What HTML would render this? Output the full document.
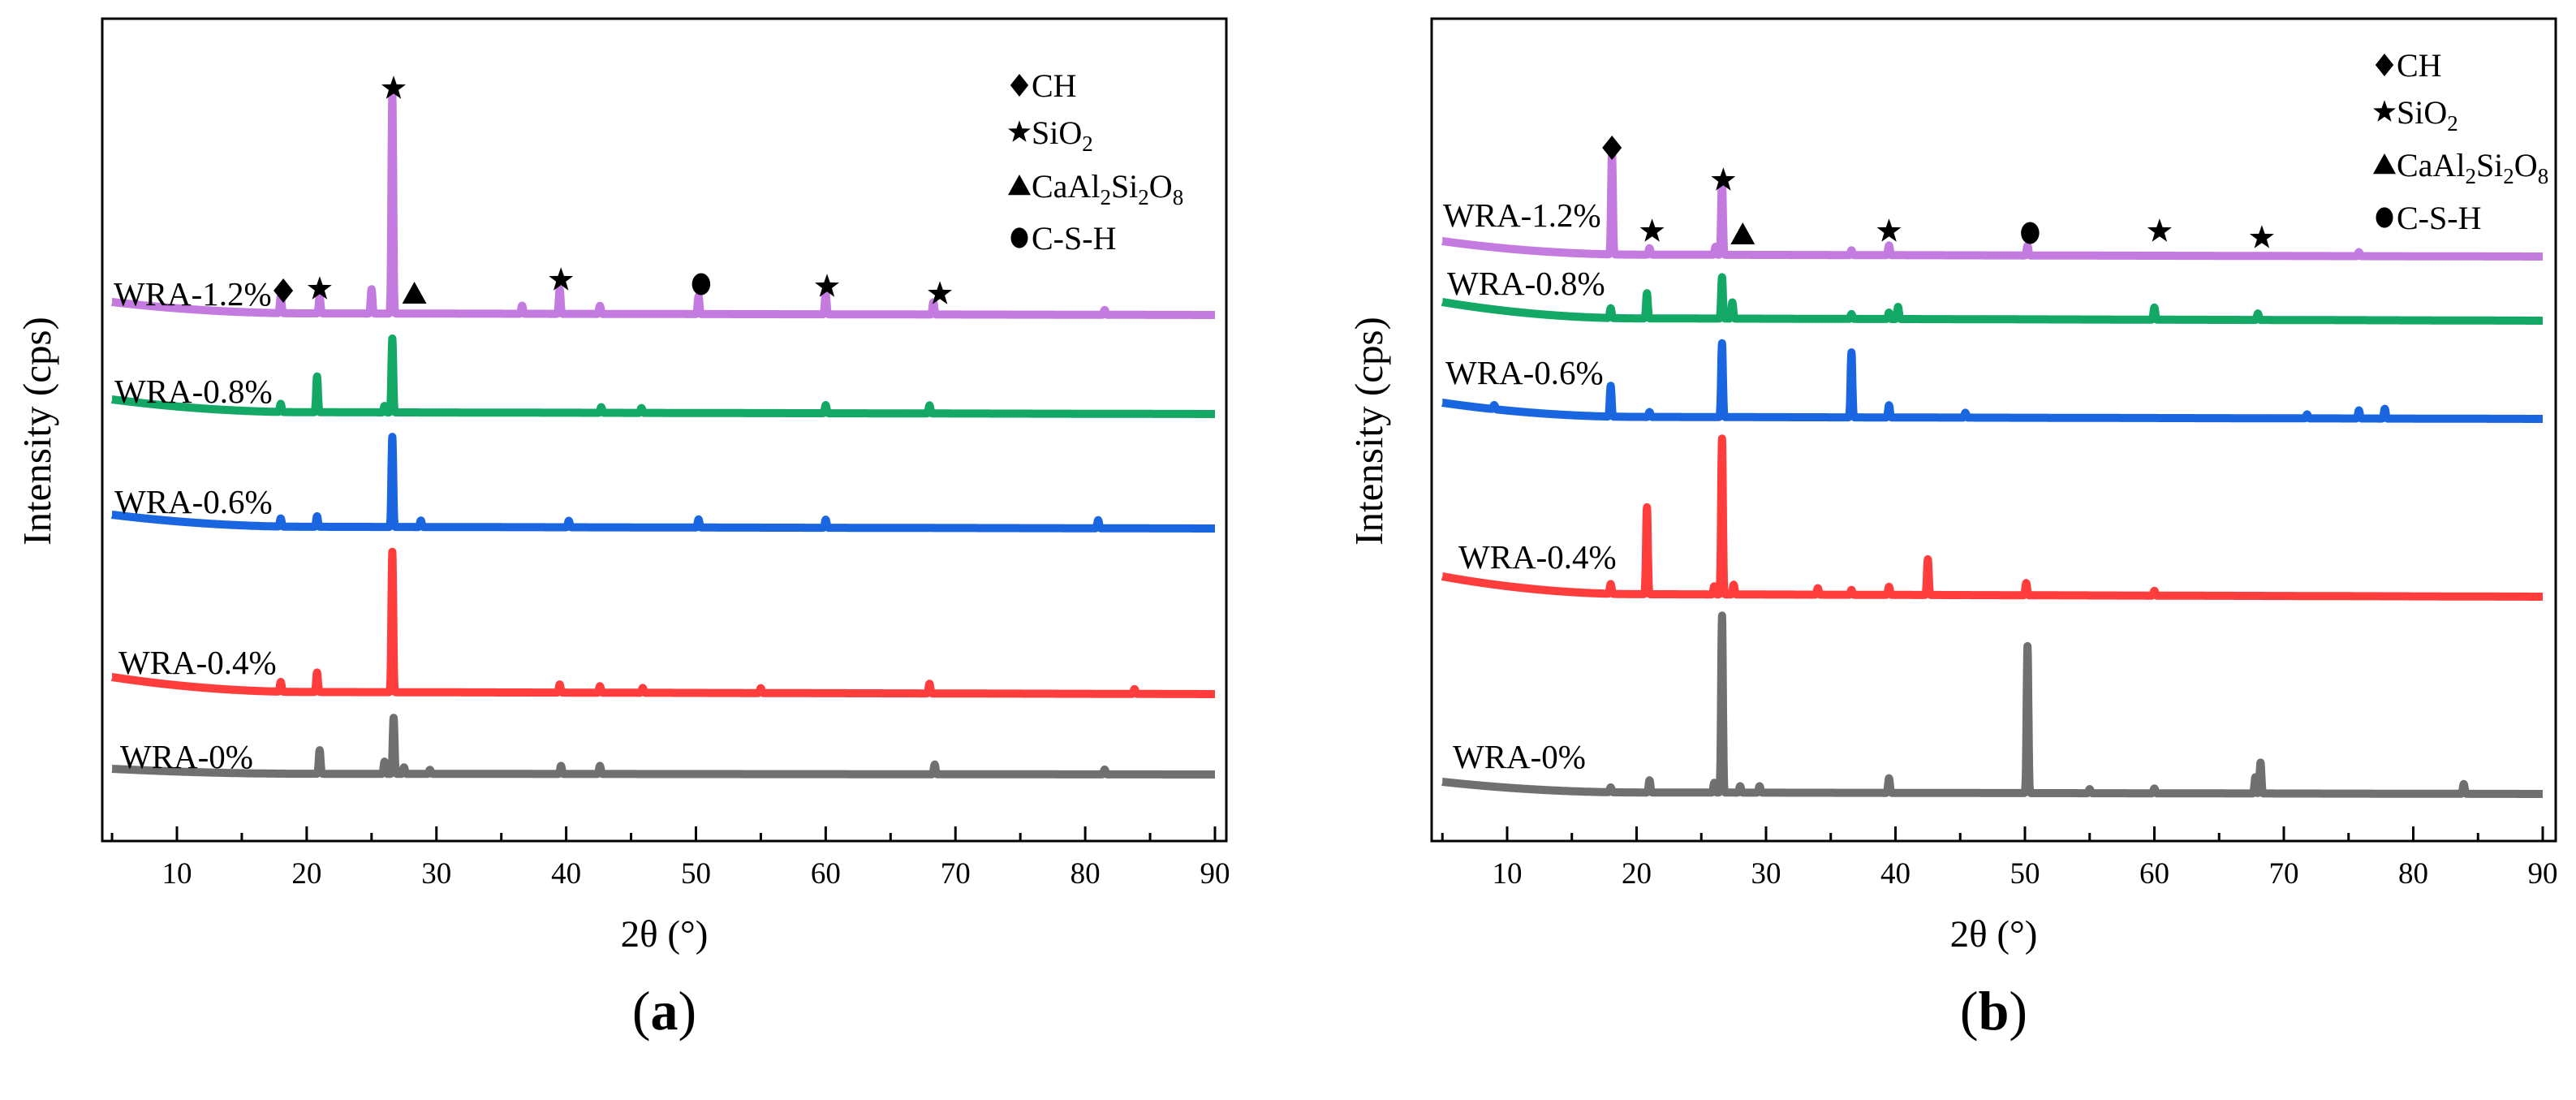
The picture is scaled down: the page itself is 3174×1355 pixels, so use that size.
<!DOCTYPE html>
<html><head><meta charset="utf-8"><style>
html,body{margin:0;padding:0;background:#fff}
svg{display:block}
text{font-family:"Liberation Serif",serif;fill:#000}
</style></head><body>
<svg id="fig" width="3174" height="1355" viewBox="0 0 3174 1355" xmlns="http://www.w3.org/2000/svg"></svg>
<script>
// ---------- data ----------
const seriesNames = ["WRA-0%","WRA-0.4%","WRA-0.6%","WRA-0.8%","WRA-1.2%"];
const seriesColors = ["#707070","#ff3d3d","#1a66e0","#14a866","#c47be0"];
// baseline heights (left at 5°, right at 90°), arbitrary intensity units
const baseLeftA  = [89, 202, 402, 544, 664];
const baseRightA = [82, 181, 385, 526, 648];
const baseLeftB  = [73, 326, 540, 664, 739];
const baseRightB = [58, 301, 520, 641, 720];
// peaks: [2theta, height]
const peaksA = [
 [[21,29],[26,15],[26.7,69],[27.5,8],[29.5,5],[39.6,10],[42.6,10],[68.4,12],[81.5,6]],
 [[18,12],[20.8,24],[26.6,173],[39.5,10],[42.6,8],[45.9,6],[55,6],[68,12],[83.8,6]],
 [[18,10],[20.8,13],[26.6,111],[28.8,8],[40.2,8],[50.2,10],[60,10],[81,10]],
 [[18,10],[20.8,44],[26,8],[26.6,91],[42.7,7],[45.8,6],[60,10],[68,10]],
 [[18,20],[21,20],[25,30],[26.6,270],[36.6,10],[39.5,30],[42.6,10],[50.2,22],[60,25],[68.3,15],[81.5,6]]
];
const peaksB = [
 [[18,6],[21,15],[26,12],[26.6,218],[28,8],[29.5,8],[39.5,18],[50.2,181],[55,5],[60,6],[67.8,20],[68.2,38],[83.9,12]],
 [[18,12],[20.8,107],[26,10],[26.6,192],[27.5,12],[34,8],[36.6,6],[39.5,10],[42.5,44],[50.1,15],[60,6]],
 [[9,5],[18,38],[21,6],[26.6,91],[36.6,80],[39.5,15],[45.4,6],[71.8,5],[75.8,10],[77.8,12]],
 [[18,12],[20.8,31],[26.6,51],[27.4,20],[36.6,6],[39.5,8],[40.2,15],[60,15],[68,8]],
 [[18.1,126],[21,8],[26.1,10],[26.6,90],[36.6,6],[39.5,12],[50.2,12],[75.8,5]]
];
const xTicks = [10,20,30,40,50,60,70,80,90];
const xMinor = [5,15,25,35,45,55,65,75,85];
// phase markers: [type, 2theta, height]
const markA = [["d",18.2,678],["s",21,680],["s",26.7,927],["t",28.3,674],["s",39.6,691],["c",50.4,686],["s",60.1,683],["s",68.8,674]];
const markB = [["d",18.1,854],["s",21.2,751],["s",26.7,814],["t",28.2,747],["s",39.5,751],["c",50.4,749],["s",60.4,751],["s",68.3,743]];
const legendItems = [["d","CH"],["s","SiO2"],["t","CaAl2Si2O8"],["c","C-S-H"]];

// ---------- drawing ----------
const NS="http://www.w3.org/2000/svg";
const svg=document.getElementById('fig');
function el(tag,attrs,parent){const e=document.createElementNS(NS,tag);for(const k in attrs)e.setAttribute(k,attrs[k]);(parent||svg).appendChild(e);return e;}

function marker(g,type,cx,cy,s){
  let m;
  if(type==="d"){m=el('polygon',{points:`${cx},${cy-s} ${cx+s*0.8},${cy} ${cx},${cy+s} ${cx-s*0.8},${cy}`,fill:'#000'},g);}
  else if(type==="s"){let p=[];for(let i=0;i<10;i++){const r=i%2?s*0.42:s*1.05;const a=-Math.PI/2+i*Math.PI/5;p.push((cx+r*Math.cos(a)).toFixed(1)+','+(cy+r*Math.sin(a)).toFixed(1));}m=el('polygon',{points:p.join(' '),fill:'#000'},g);}
  else if(type==="t"){m=el('polygon',{points:`${cx},${cy-s} ${cx+s},${cy+s*0.8} ${cx-s},${cy+s*0.8}`,fill:'#000'},g);}
  else {m=el('ellipse',{cx:cx,cy:cy,rx:s*0.75,ry:s*0.9,fill:'#000'},g);}
  return m;
}

function panel(cfg){
  const g=el('g',{});
  
  
  const X=v=>cfg.x10+(v-10)*(cfg.x90-cfg.x10)/80;
  const Y=v=>cfg.bottom-v;
  seriesNames.forEach((nm,i)=>{
    const L=cfg.bl[i],R=cfg.br[i];
    const pts=[];
    for(let x=5;x<=90.001;x+=0.02){
      const t=Math.min(1,(x-5)/15);
      let b=L+(R-L)*(0.85*(1-(1-t)*(1-t)))+(R-L)*0.15*((x-5)/85);
      let p=0;
      cfg.peaks[i].forEach(([c,h])=>{p+=h*Math.exp(-((x-c)*(x-c))/(2*0.065*0.065));});
      pts.push(X(x).toFixed(1)+','+Y(b+p).toFixed(1));
    }
    const pl=el('polyline',{points:pts.join(' '),fill:'none',stroke:seriesColors[i],'stroke-width':10,'stroke-linejoin':'round'},g);
    
    
    const lb=el('text',{x:cfg.lx[i],y:cfg.ly[i],'font-size':41},g);
    lb.textContent=nm;
    
    
  });
  const fr=el('rect',{x:cfg.left,y:23,width:cfg.right-cfg.left,height:cfg.bottom-23,fill:'none',stroke:'#000','stroke-width':3},g);
  
  
  xTicks.forEach(v=>{
    const t=el('line',{x1:X(v),x2:X(v),y1:cfg.bottom,y2:cfg.bottom-18,stroke:'#000','stroke-width':3},g);
    
    
    const tl=el('text',{x:X(v),y:cfg.bottom+52,'font-size':37,'text-anchor':'middle'},g);
    tl.textContent=v;
    
    
  });
  xMinor.forEach(v=>{
    const t=el('line',{x1:X(v),x2:X(v),y1:cfg.bottom,y2:cfg.bottom-10,stroke:'#000','stroke-width':3},g);
    
    
  });
  const xt=el('text',{x:(cfg.left+cfg.right)/2,y:1166,'font-size':47,'text-anchor':'middle'},g);
  xt.textContent='2θ (°)';
  
  
  const yt=el('text',{x:0,y:0,'font-size':49,'text-anchor':'middle',transform:`translate(${cfg.ytx},531) rotate(-90)`},g);
  yt.textContent='Intensity (cps)';
  
  
  const pt=el('text',{x:(cfg.left+cfg.right)/2,y:1268,'font-size':68,'text-anchor':'middle'},g);
  pt.innerHTML='(<tspan font-weight="bold">'+cfg.letter+'</tspan>)';
  
  
  cfg.marks.forEach(([tp,x,h])=>{
    const m=marker(g,tp,X(x),Y(h),15);
    
    
  });
  legendItems.forEach(([tp,lab],k)=>{
    const cy=cfg.legY[k];
    const m=marker(g,tp,cfg.legX,cy,14);
    
    
    const t=el('text',{x:cfg.legX+15,y:cy+14,'font-size':40},g);
    if(lab==="SiO2") t.innerHTML='SiO<tspan font-size="27" dy="9">2</tspan>';
    else if(lab==="CaAl2Si2O8") t.innerHTML='CaAl<tspan font-size="27" dy="9">2</tspan><tspan dy="-9">Si</tspan><tspan font-size="27" dy="9">2</tspan><tspan dy="-9">O</tspan><tspan font-size="27" dy="9">8</tspan>';
    else t.textContent=lab;
    
    
  });
}

panel({name:'panel-a',letter:'a',left:126,right:1511,bottom:1036,x10:218,x90:1497,
  bl:baseLeftA,br:baseRightA,peaks:peaksA,
  lx:[148,146,141,141,140],ly:[946,830,632,496,376],ytx:62,
  marks:markA,legX:1256,legY:[105,163,229,293]});
panel({name:'panel-b',letter:'b',left:1764,right:3149,bottom:1036,x10:1857,x90:3133,
  bl:baseLeftB,br:baseRightB,peaks:peaksB,
  lx:[1790,1797,1781,1783,1778],ly:[946,700,473,363,279],ytx:1703,
  marks:markB,legX:2938,legY:[80,138,203,268]});
</script>
</body></html>
